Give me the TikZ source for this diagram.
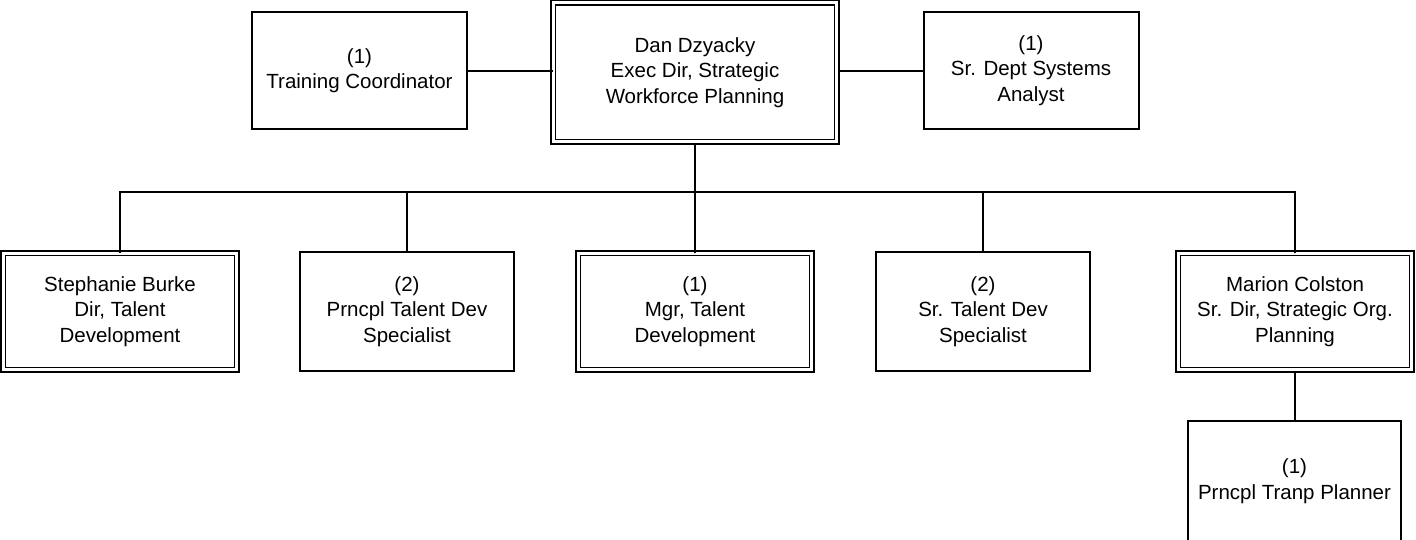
\documentclass[tikz,border=0pt]{standalone}
\usepackage{fontspec}
\setmainfont{Liberation Sans}
\begin{document}
\begin{tikzpicture}[x=1pt,y=-1pt,line width=2pt,
  box/.style={draw,line width=2pt,align=center,font=\fontsize{20.5}{25.5}\selectfont,inner sep=0pt,minimum width=215pt,minimum height=117pt},
  dbox/.style={box,double,line width=1.5pt,double distance=3pt},
  link/.style={draw,line width=2pt}]
\useasboundingbox (0,0) rectangle (1416,539);
\node[dbox,minimum width=283.5pt,minimum height=139pt] (dan) at (695,72.25) {Dan Dzyacky\\Exec Dir, Strategic\\Workforce Planning};
\node[box] (tc) at (359.5,70.5) {(1)\\Training Coordinator};
\node[box] (sa) at (1031,70.5) {(1)\\Sr. Dept Systems\\Analyst};
\node[dbox,minimum width=233.5pt,minimum height=116.5pt] (sb) at (120,311.5) {Stephanie Burke\\Dir, Talent\\Development};
\node[box,minimum width=214pt,minimum height=119pt] (pt) at (407,311.5) {(2)\\Prncpl Talent Dev\\Specialist};
\node[dbox,minimum width=233.5pt,minimum height=116.5pt] (mgr) at (695,311.5) {(1)\\Mgr, Talent\\Development};
\node[box,minimum width=214pt,minimum height=119pt] (st) at (983,311.5) {(2)\\Sr. Talent Dev\\Specialist};
\node[dbox,minimum width=233.5pt,minimum height=116.5pt] (mc) at (1295,311.5) {Marion Colston\\Sr. Dir, Strategic Org.\\Planning};
\node[box,minimum width=213pt,minimum height=120pt] (tp) at (1294.5,481) {(1)\\Prncpl Tranp Planner};
\coordinate (bus) at (695,192);
\path[link] (tc.east) -- (tc.east -| dan.west);
\path[link] (sa.west -| dan.east) -- (sa.west);
\path[link] (dan.south) -- (bus);
\path[link] (sb.north) |- (bus) -| (mc.north);
\path[link] (pt.north) -- (pt.north |- bus);
\path[link] (mgr.north) -- (bus);
\path[link] (st.north) -- (st.north |- bus);
\path[link] (mc.south) -- (mc.south |- tp.north);
\end{tikzpicture}
\end{document}
